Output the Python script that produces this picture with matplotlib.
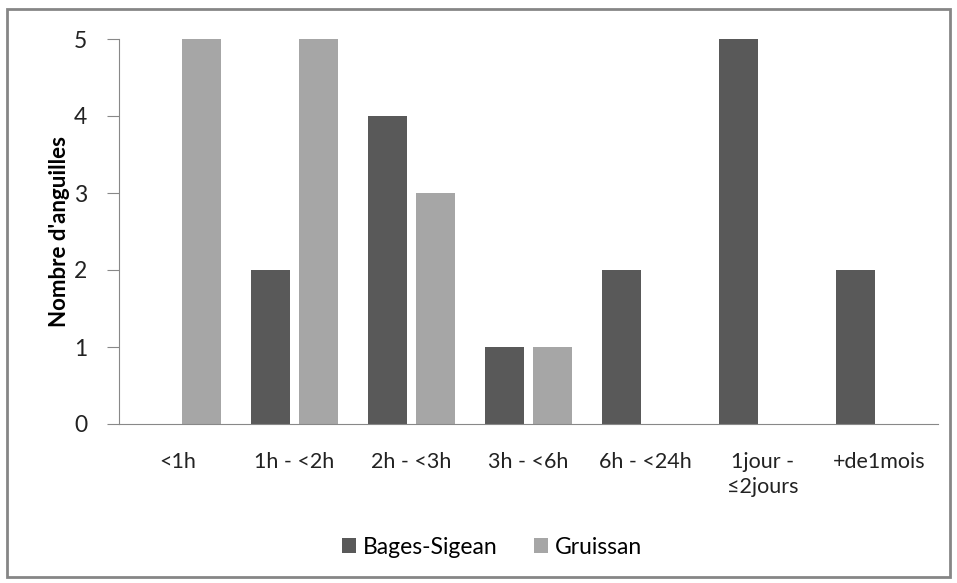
import numpy as np
import matplotlib.pyplot as plt
from matplotlib.patches import Rectangle

categories = ['<1h', '1h - <2h', '2h - <3h', '3h - <6h', '6h - <24h', '1jour -\n≤2jours', '+de1mois']
bages = [0, 2, 4, 1, 2, 5, 2]
gruissan = [5, 5, 3, 1, 0, 0, 0]

plt.rcParams['font.family'] = ['Lato', 'DejaVu Sans']

fig = plt.figure(figsize=(9.57, 5.83), dpi=100)
ax = fig.add_axes([119/957, 1-424/583, (938-119)/957, (424-39)/583])

fig.patches.append(Rectangle((7/957, 6/583), 943/957, 568/583, transform=fig.transFigure,
                             fill=False, edgecolor='#868686', linewidth=2))

x = np.arange(len(categories))
w = 0.335
b1 = ax.bar(x - 0.207, bages, w, color='#595959', label='Bages-Sigean')
b2 = ax.bar(x + 0.207, gruissan, w, color='#a6a6a6', label='Gruissan')

ax.set_xlim(-0.5, len(categories) - 0.5)
ax.set_ylim(0, 5)
ax.set_yticks(range(6))
ax.set_xticks(x)
ax.set_xticklabels(categories, fontsize=15.5, color='#222222', linespacing=1.35)
ax.tick_params(axis='x', length=0, pad=20)
ax.tick_params(axis='y', labelsize=16.5, length=9, color='#888888', pad=14, labelcolor='#222222')
for s in ['top', 'right']:
    ax.spines[s].set_visible(False)
for s in ['left', 'bottom']:
    ax.spines[s].set_color('#888888')

ax.set_ylabel("Nombre d'anguilles", fontsize=16, fontweight='bold')
ax.yaxis.set_label_coords(-0.06, 0.5)

fig.legend(handles=[b1, b2], loc='center', bbox_to_anchor=(492/957, 1-547/583), ncol=2,
           frameon=False, fontsize=16.5, handlelength=0.6, handleheight=0.6, columnspacing=1.6,
           handletextpad=0.3)

fig.savefig('out.png', dpi=100)
